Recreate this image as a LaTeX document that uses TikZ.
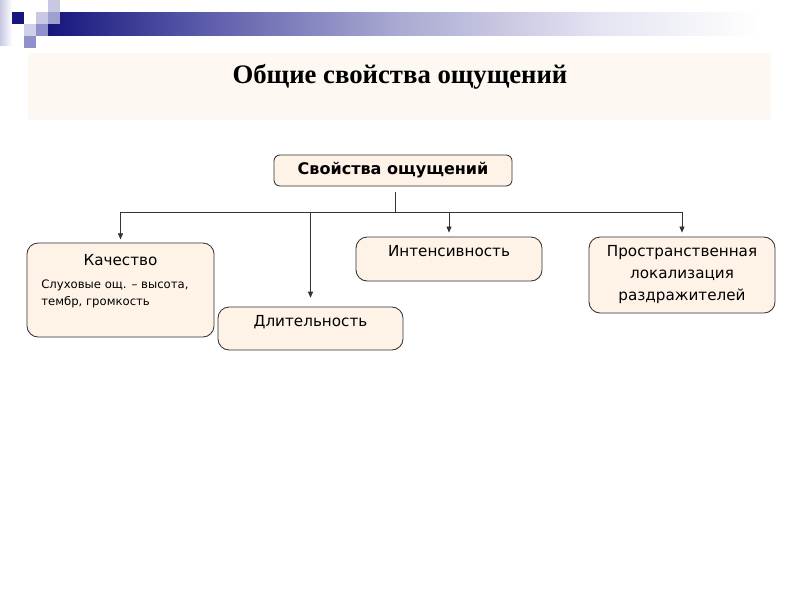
\documentclass[tikz,border=0pt]{standalone}
\usepackage{fontspec}
\setmainfont{DejaVu Sans}
\newfontfamily\titlefont{Liberation Serif}
\usetikzlibrary{arrows.meta}

\definecolor{navy}{RGB}{22,22,125}
\definecolor{barA}{RGB}{90,90,170}
\definecolor{barB}{RGB}{170,170,210}
\definecolor{barC}{RGB}{228,228,242}
\definecolor{sqA}{RGB}{200,200,228}
\definecolor{sqB}{RGB}{160,160,208}
\definecolor{sqC}{RGB}{208,208,234}
\definecolor{sqD}{RGB}{144,144,204}
\definecolor{bandfill}{RGB}{253,248,242}
\definecolor{boxfill}{RGB}{255,243,232}
\definecolor{boxline}{RGB}{50,50,50}

\pgfdeclarehorizontalshading{barshade}{100bp}{color(0bp)=(navy); color(25bp)=(navy); color(35.4bp)=(barA); color(49bp)=(barB); color(62.7bp)=(barC); color(73.5bp)=(white); color(100bp)=(white)}

\tikzset{
	box/.style={draw=boxline, fill=boxfill, rounded corners=0.28cm, line width=0.6pt, inner sep=0pt},
	boxtext/.style={font=\fontsize{10.8}{15.3}\selectfont, anchor=base, align=center, inner sep=0pt},
	smalltext/.style={font=\fontsize{8.3}{11.4}\selectfont, anchor=base west, align=left, inner sep=0pt},
	link/.style={draw=black!80, line width=0.5pt},
	arrowlink/.style={link, -{Triangle[length=4.3pt,width=3.6pt]}},
}

\begin{document}
\begin{tikzpicture}[x=0.025cm, y=-0.025cm]
	\useasboundingbox (0,0) rectangle (800,600);
	% header
	\shade[shading=barshade] (48,12) rectangle (780,35);
	\shade[left color=sqA, right color=white] (0,0) rectangle (12,45);
	\fill[navy] (12,12) rectangle (24,24);
	\fill[sqA] (48,0) rectangle (60,12);
	\fill[sqA] (36,12) rectangle (48,24);
	\fill[sqB] (48,12) rectangle (60,24);
	\fill[sqC] (24,24) rectangle (36,36);
	\fill[sqD] (36,24) rectangle (48,36);
	\fill[sqD] (24,36) rectangle (36,48);
	\fill[bandfill] (28,53) rectangle (771,120);
	\node[font=\titlefont\bfseries\fontsize{19}{23}\selectfont, anchor=base, inner sep=0pt] (title) at (400,83) {Общие свойства ощущений};

	% boxes
	\node[box, rounded corners=0.15cm, minimum width=5.95cm, minimum height=0.775cm, font=\bfseries\fontsize{11.4}{13}\selectfont] (root) at (393,170.5) {Свойства ощущений};
	\node[box, minimum width=4.675cm, minimum height=2.35cm] (kach) at (120.5,290) {};
	\node[box, minimum width=4.625cm, minimum height=1.075cm] (dlit) at (310.5,328.5) {};
	\node[box, minimum width=4.65cm, minimum height=1.1cm] (intens) at (449,259) {};
	\node[box, minimum width=4.65cm, minimum height=1.9cm] (prostr) at (682,275) {};

	\node[boxtext] (kachlabel) at (120.5,265) {Качество};
	\node[smalltext] (kachnote) at (41,305) {Слуховые ощ. – высота,\\тембр, громкость};
	\node[boxtext] (dlitlabel) at (310.5,326) {Длительность};
	\node[boxtext] (intlabel) at (449,256) {Интенсивность};
	\node[boxtext] (prostrlabel) at (682,300) {Пространственная\\локализация\\раздражителей};

	% connectors
	\coordinate (stem) at (395,192);
	\coordinate (bus) at (395,212);
	\draw[link] (stem) -- (bus);
	\draw[link] (kach.north |- bus) -- (prostr.north |- bus);
	\draw[arrowlink, shorten >=0.08cm] (kach.north |- bus) -- (kach.north);
	\draw[arrowlink, shorten >=0.22cm] (dlit.north |- bus) -- (dlit.north);
	\draw[arrowlink, shorten >=0.1cm] (intens.north |- bus) -- (intens.north);
	\draw[arrowlink, shorten >=0.1cm] (prostr.north |- bus) -- (prostr.north);
\end{tikzpicture}
\end{document}
